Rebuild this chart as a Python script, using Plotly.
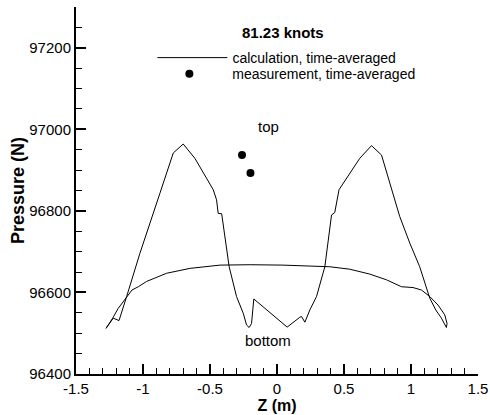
import plotly.graph_objects as go

# Calculation, time-averaged: smooth lower branch (left -> right)
z_smooth = [-1.276, -1.226, -1.187, -1.122, -1.082, -1.035, -0.973, -0.824, -0.650,
            -0.426, -0.200, 0.044, 0.200, 0.394, 0.543, 0.692, 0.817, 0.929, 1.015,
            1.078, 1.140, 1.202, 1.252, 1.269, 1.264]
p_smooth = [96512, 96537, 96560, 96590, 96606, 96614, 96627, 96647, 96659,
            96667, 96668, 96667, 96666, 96663, 96657, 96645, 96631, 96614, 96612,
            96606, 96590, 96569, 96545, 96524, 96514]

# Calculation, time-averaged: peaked branch (left -> right)
z_peak = [-1.276, -1.222, -1.179, -1.122, -1.023, -0.874, -0.774, -0.700, -0.613,
          -0.476, -0.451, -0.439, -0.413, -0.402, -0.357, -0.302, -0.252, -0.227,
          -0.208, -0.190, -0.173, 0.076, 0.170, 0.183, 0.208, 0.245, 0.295, 0.357,
          0.407, 0.431, 0.463, 0.618, 0.705, 0.780, 0.916, 0.991, 1.065, 1.140,
          1.185, 1.227, 1.264]
p_peak = [96512, 96537, 96531, 96590, 96696, 96843, 96942, 96964, 96929,
          96852, 96827, 96794, 96793, 96778, 96663, 96590, 96549, 96520,
          96514, 96524, 96584, 96515, 96539, 96541, 96527, 96557, 96590, 96663,
          96790, 96796, 96852, 96929, 96960, 96937, 96786, 96721, 96663, 96586,
          96557, 96537, 96514]

# Measurement, time-averaged
z_meas = [-0.261, -0.198]
p_meas = [96937, 96893]

x_tickvals = [-1.5, -1, -0.5, 0, 0.5, 1, 1.5]
x_ticktext = ["-1.5", "-1", "-0.5", "0", "0.5", "1", "1.5"]
y_tickvals = [96400, 96600, 96800, 97000, 97200]
y_ticktext = ["96400", "96600", "96800", "97000", "97200"]

FONT = "Arial, Liberation Sans, Helvetica, sans-serif"

fig = go.Figure()
fig.add_trace(go.Scatter(
    x=z_smooth + z_peak[::-1], y=p_smooth + p_peak[::-1],
    mode="lines", line=dict(color="black", width=1),
    name="calculation, time-averaged", legend="legend"))
fig.add_trace(go.Scatter(
    x=z_meas, y=p_meas, mode="markers",
    marker=dict(color="black", size=8),
    name="measurement, time-averaged", legend="legend2"))

fig.add_annotation(x=0.046, y=97237, text="<b>81.23 knots</b>", showarrow=False,
                   font=dict(family=FONT, size=15, color="black"))
fig.add_annotation(x=-0.062, y=97007, text="top", showarrow=False,
                   font=dict(family=FONT, size=15, color="black"))
fig.add_annotation(x=-0.069, y=96482, text="bottom", showarrow=False,
                   font=dict(family=FONT, size=15, color="black"))

leg_common = dict(xanchor="left", yanchor="middle", bgcolor="rgba(0,0,0,0)",
                  font=dict(size=14))

fig.update_layout(
    width=490, height=415,
    margin=dict(l=76, r=12, t=7, b=41, autoexpand=False),
    paper_bgcolor="white", plot_bgcolor="white",
    font=dict(family=FONT, size=15, color="black"),
    showlegend=True,
    legend=dict(x=0.19, y=0.861, itemwidth=70, **leg_common),
    legend2=dict(x=0.175, y=0.817, itemwidth=76, **leg_common),
    xaxis=dict(range=[-1.5, 1.5], tickmode="array", tickvals=x_tickvals,
               ticktext=x_ticktext, ticks="inside", ticklen=10, tickwidth=2,
               tickcolor="black", showline=True, linewidth=2, linecolor="black",
               showgrid=False, zeroline=False, automargin=False,
               minor=dict(ticks="inside", ticklen=6, tickwidth=1, tickcolor="black",
                          tickmode="linear", tick0=-1.5, dtick=0.1, showgrid=False),
               title=dict(text="<b>Z (m)</b>", font=dict(size=16), standoff=0)),
    yaxis=dict(range=[96400, 97300], tickmode="array", tickvals=y_tickvals,
               ticktext=y_ticktext, ticks="inside", ticklen=10, tickwidth=2,
               tickcolor="black", showline=True, linewidth=2, linecolor="black",
               showgrid=False, zeroline=False, automargin=False,
               minor=dict(ticks="inside", ticklen=6, tickwidth=1, tickcolor="black",
                          tickmode="linear", tick0=96400, dtick=50, showgrid=False),
               title=dict(text="<b>Pressure (N)</b>", font=dict(size=18), standoff=0)),
)

fig.write_html("out.html")
